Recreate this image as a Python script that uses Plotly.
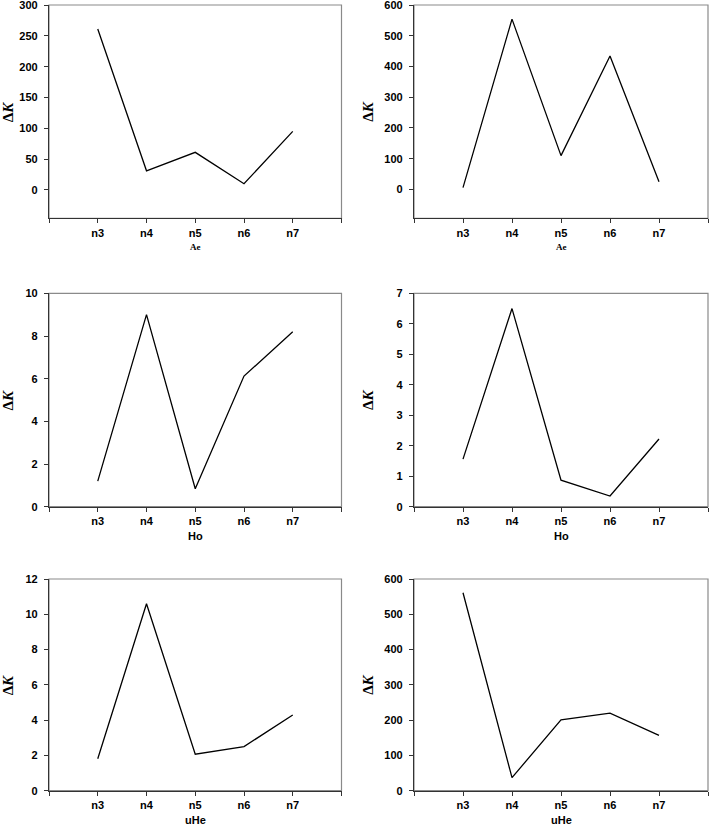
import plotly.graph_objects as go
from plotly.subplots import make_subplots

# Categories along the x axis
categories = ['n3', 'n4', 'n5', 'n6', 'n7']

# Delta K values for each panel
ae_left = [261, 31, 61, 10, 95]
ae_right = [6, 554, 110, 434, 25]
ho_left = [1.2, 9.0, 0.84, 6.12, 8.2]
ho_right = [1.56, 6.5, 0.87, 0.35, 2.22]
uhe_left = [1.81, 10.6, 2.07, 2.5, 4.29]
uhe_right = [561, 37, 201, 220, 157]

panel_series = [ae_left, ae_right, ho_left, ho_right, uhe_left, uhe_right]
panel_xtitles = ['Ae', 'Ae', 'Ho', 'Ho', 'uHe', 'uHe']
panel_yranges = [[-46, 300.01], [-94, 600.01], [0, 10.001], [0, 7.001], [0, 12.001], [0, 600.01]]
panel_ydtick = [50, 100, 2, 1, 2, 100]

W, H = 709, 826
# pixel geometry of plot areas
col_x = [(49, 341.5), (414, 708)]
row_y = [(5, 218.3), (293.3, 506.7), (579, 790.7)]

fig = make_subplots(rows=3, cols=2)

xpos = list(range(len(categories)))
tickvals = [-1] + xpos + [len(categories)]
ticktext = [''] + categories + ['']

for i, ys in enumerate(panel_series):
    r, c = i // 2, i % 2
    fig.add_trace(go.Scatter(x=xpos, y=ys, mode='lines',
                             line=dict(color='black', width=1.3),
                             showlegend=False, hoverinfo='skip'),
                  row=r + 1, col=c + 1)
    x0, x1 = col_x[c]
    y0, y1 = row_y[r]
    n = i + 1
    xa = 'xaxis' if n == 1 else f'xaxis{n}'
    ya = 'yaxis' if n == 1 else f'yaxis{n}'
    fig.layout[xa].update(
        domain=[x0 / W, x1 / W], range=[-1, len(categories)], automargin=False,
        tickmode='array', tickvals=tickvals, ticktext=ticktext,
        showgrid=False, zeroline=False, showline=True, linecolor='#333333', linewidth=1.2,
        ticks='outside', ticklen=4, tickcolor='#333333', tickwidth=1,
        tickfont=dict(family='Liberation Sans', size=11, color='black', weight='bold'),
        ticklabelstandoff=0, ticklabeloverflow='allow')
    fig.layout[ya].update(
        domain=[1 - y1 / H, 1 - y0 / H], range=panel_yranges[i], automargin=False,
        tick0=0, dtick=panel_ydtick[i],
        showgrid=False, zeroline=False, showline=True, linecolor='#333333', linewidth=1.2,
        ticks='outside', ticklen=4, tickcolor='#333333', tickwidth=1,
        tickfont=dict(family='Liberation Sans', size=11, color='black', weight='bold'),
        ticklabelstandoff=4, ticklabeloverflow='allow')
    # light frame on top and right
    xr = 'x' if n == 1 else f'x{n}'
    yr = 'y' if n == 1 else f'y{n}'
    fig.add_shape(type='rect', xref=f'{xr} domain', yref=f'{yr} domain',
                  x0=0, x1=1, y0=0, y1=1, line=dict(color='#8a8a8a', width=1.2),
                  layer='below')

    # x-axis title
    xc = (x0 + x1) / 2 / W
    if panel_xtitles[i] == 'Ae':
        fig.add_annotation(x=xc, y=1 - (y1 + 28.5) / H, xref='paper', yref='paper',
                           xanchor='center', yanchor='middle',
                           text='Ae', showarrow=False,
                           font=dict(family='Liberation Serif', size=9, color='black', weight='bold'))
    else:
        fig.add_annotation(x=xc, y=1 - (y1 + 29) / H, xref='paper', yref='paper',
                           xanchor='center', yanchor='middle',
                           text=panel_xtitles[i], showarrow=False,
                           font=dict(family='Liberation Sans', size=11, color='black', weight='bold'))

    # y-axis title
    fig.add_annotation(x=max(x0 - 46, 7.5) / W, y=1 - (y0 + y1) / 2 / H, xref='paper', yref='paper',
                       xanchor='center', yanchor='middle',
                       text='Δ<i>K</i>', showarrow=False, textangle=-90,
                       font=dict(family='Liberation Serif', size=15, color='black', weight='bold'))

fig.update_layout(width=W, height=H, margin=dict(l=0, r=0, t=0, b=0),
                  plot_bgcolor='white', paper_bgcolor='white')

# drop the page's default body margin so the figure sits at the window corner
fig.write_html('out.html', config={'displayModeBar': False},
               post_script="document.body.style.margin='0';")
